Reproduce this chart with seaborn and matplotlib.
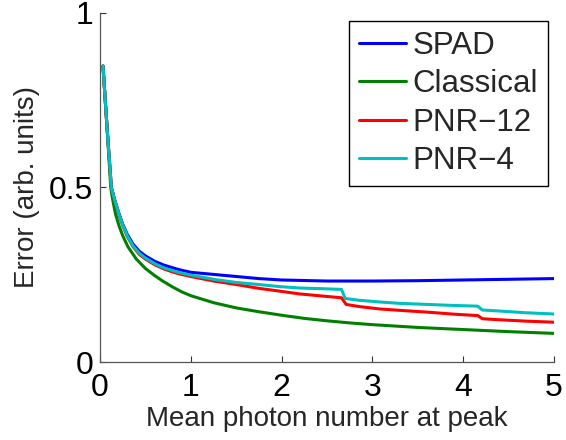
import matplotlib
matplotlib.use("Agg")
import matplotlib.pyplot as plt
import seaborn as sns
import pandas as pd

# ---- data ----
spad_x = [0.033, 0.077, 0.125, 0.16, 0.206, 0.25, 0.3, 0.363, 0.43, 0.5, 0.6, 0.7, 0.8, 0.88, 1.0,
          1.25, 1.5, 1.75, 2.0, 2.5, 3.0, 3.5, 4.0, 4.5, 5.0]
spad_y = [0.848, 0.674, 0.500, 0.466, 0.428, 0.395, 0.366, 0.338, 0.318, 0.304, 0.289, 0.278, 0.270, 0.264, 0.257,
          0.251, 0.245, 0.239, 0.235, 0.232, 0.232, 0.233, 0.235, 0.237, 0.239]

classical_x = [0.033, 0.077, 0.118, 0.14, 0.169, 0.21, 0.25, 0.308, 0.4, 0.5, 0.6, 0.69, 0.8, 0.9, 1.0,
               1.25, 1.5, 1.75, 2.0, 2.25, 2.5, 2.75, 3.0, 3.5, 4.0, 4.5, 5.0]
classical_y = [0.848, 0.674, 0.500, 0.465, 0.426, 0.390, 0.362, 0.330, 0.295, 0.268, 0.248, 0.232, 0.215, 0.201, 0.190,
               0.170, 0.155, 0.144, 0.134, 0.125, 0.118, 0.112, 0.107, 0.099, 0.093, 0.087, 0.082]

pnr12_x = [0.033, 0.077, 0.125, 0.16, 0.206, 0.25, 0.3, 0.363, 0.43, 0.5, 0.6, 0.7, 0.8, 0.88, 1.0,
           1.25, 1.5, 1.75, 1.98, 2.2, 2.45, 2.66, 2.71, 2.85, 3.08, 3.3, 3.6, 3.9, 4.16, 4.21, 4.4, 4.7, 5.0]
pnr12_y = [0.848, 0.674, 0.500, 0.465, 0.425, 0.391, 0.360, 0.331, 0.309, 0.295, 0.279, 0.267, 0.258, 0.252, 0.245,
           0.232, 0.222, 0.211, 0.203, 0.195, 0.189, 0.184, 0.165, 0.159, 0.152, 0.148, 0.143, 0.137, 0.133, 0.124,
           0.121, 0.117, 0.114]

pnr4_x = [0.033, 0.077, 0.125, 0.16, 0.206, 0.25, 0.3, 0.363, 0.43, 0.5, 0.6, 0.7, 0.8, 0.88, 1.0,
          1.25, 1.5, 1.75, 1.98, 2.2, 2.45, 2.66, 2.70, 2.85, 3.08, 3.3, 3.6, 3.9, 4.16, 4.21, 4.4, 4.7, 5.0]
pnr4_y = [0.848, 0.674, 0.500, 0.465, 0.426, 0.392, 0.362, 0.333, 0.312, 0.298, 0.282, 0.270, 0.262, 0.256, 0.249,
          0.237, 0.228, 0.222, 0.216, 0.212, 0.210, 0.208, 0.182, 0.177, 0.172, 0.168, 0.165, 0.162, 0.160, 0.149,
          0.146, 0.141, 0.1375]

labels = ["SPAD", "Classical", "PNR\u221212", "PNR\u22124"]
colors = ["#0000ff", "#008000", "#ff0000", "#00bfbf"]
x_ticks = [0, 1, 2, 3, 4, 5]
y_ticks = [0, 0.5, 1]
y_tick_labels = ["0", "0.5", "1"]

frames = []
for lab, xs, ys in zip(labels, [spad_x, classical_x, pnr12_x, pnr4_x],
                       [spad_y, classical_y, pnr12_y, pnr4_y]):
    frames.append(pd.DataFrame({"x": xs, "y": ys, "series": lab}))
df = pd.concat(frames, ignore_index=True)

sns.set_style("ticks")
plt.rcParams["font.family"] = ["Liberation Sans", "DejaVu Sans"]

fig = plt.figure(figsize=(5.66, 4.40), dpi=100)
ax = fig.add_axes([100 / 566, 1 - 362 / 440, 454 / 566, 349 / 440])

sns.lineplot(data=df, x="x", y="y", hue="series", hue_order=labels,
             palette=colors, estimator=None, sort=False, linewidth=2.2,
             ax=ax, legend=True)

ax.set_xlim(0, 5)
ax.set_ylim(0, 1)
ax.set_xticks(x_ticks)
ax.set_xticklabels([str(t) for t in x_ticks])
ax.set_yticks(y_ticks)
ax.set_yticklabels(y_tick_labels)
ax.tick_params(direction="in", length=4, width=0.8, colors="#333333",
               labelcolor="black", labelsize=23)
ax.tick_params(axis="x", pad=8)
ax.tick_params(axis="y", pad=5)
for s in ["top", "right"]:
    ax.spines[s].set_visible(False)
for s in ["left", "bottom"]:
    ax.spines[s].set_color("#555555")
    ax.spines[s].set_linewidth(0.9)

ax.set_xlabel("Mean photon number at peak", fontsize=20, labelpad=2)
ax.set_ylabel("Error (arb. units)", fontsize=20, labelpad=6)

handles, labs = ax.get_legend_handles_labels()
leg = ax.legend(handles, labs, loc="upper right",
                bbox_to_anchor=(548 / 566, 1 - 21 / 440),
                bbox_transform=fig.transFigure, borderaxespad=0,
                fontsize=22.5, frameon=True, fancybox=False, framealpha=1,
                edgecolor="black", handlelength=1.5, handletextpad=0.2,
                labelspacing=0.27, borderpad=0.32)
leg.get_frame().set_linewidth(1.0)
for line in leg.get_lines():
    line.set_linewidth(2.2)

fig.savefig("out.png", dpi=100)
